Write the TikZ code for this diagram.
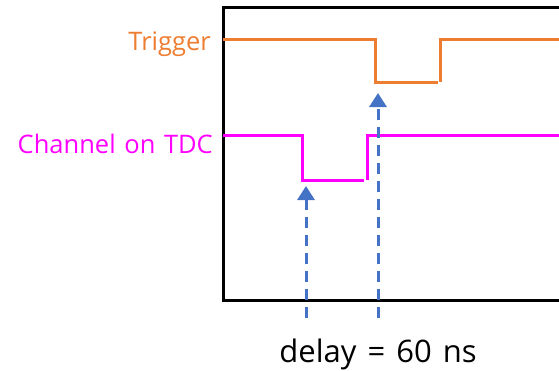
\documentclass[tikz,border=0pt]{standalone}
\usepackage{fontspec}
\setmainfont{Open Sans}
\usetikzlibrary{positioning, arrows.meta, calc}
\definecolor{trigcol}{HTML}{ED7D31}
\definecolor{tdccol}{HTML}{FF00FF}
\definecolor{arrcol}{HTML}{4472C4}

\begin{document}
\begin{tikzpicture}[x=1pt, y=-1pt,
    every node/.style={font=\fontsize{25.5}{30}\selectfont, inner sep=0pt},
    frame/.style={line width=3pt, black},
    trigwave/.style={line width=3pt, trigcol},
    tdcwave/.style={line width=3pt, tdccol},
    arr/.style={-{Triangle[length=14pt, width=17pt]}, dash pattern=on 11pt off 7pt, line width=3pt, arrcol},
]
\useasboundingbox (0,0) rectangle (559,370);

% axes box, open on the right
\coordinate (tl) at (223,7);
\coordinate (bl) at (223,300);
\draw[frame] (559,7) -- (tl) -- (bl) -- (559,300);

% labels
\node[anchor=base east, text=trigcol] (trig) at (211,50) {Trigger};
\node[anchor=base east, text=tdccol] (tdc) at (213,153) {Channel\hspace{2pt} on\hspace{2pt} TDC};

% trigger pulse
\coordinate (tfall) at (375,39);
\coordinate (tlow) at (375,82);
\coordinate (tend) at (438,82);
\draw[trigwave] (tl |- tfall) -- (tfall) -- (tlow) -- (tend);
\draw[trigwave] (440,82) -- (440,39) -- (559,39);

% channel pulse
\coordinate (cfall) at (302,135);
\coordinate (clow) at (302,180);
\coordinate (cend) at (364,180);
\draw[tdcwave] (tl |- cfall) -- (cfall) -- (clow) -- (cend);
\draw[tdcwave] (367,180) -- (367,135) -- (559,135);

% delay markers
\coordinate (m1) at (306,318);
\coordinate (m2) at (378,318);
\draw[arr] (m1) -- ([yshift=-6pt]m1 |- clow);
\draw[arr] (m2) -- ([yshift=-11pt]m2 |- tlow);

\node[anchor=base, text=black, font=\fontsize{31}{36}\selectfont] (delay) at (378,362) {delay\hspace{3pt} =\hspace{3pt} 60\hspace{3pt} ns};
\end{tikzpicture}
\end{document}
